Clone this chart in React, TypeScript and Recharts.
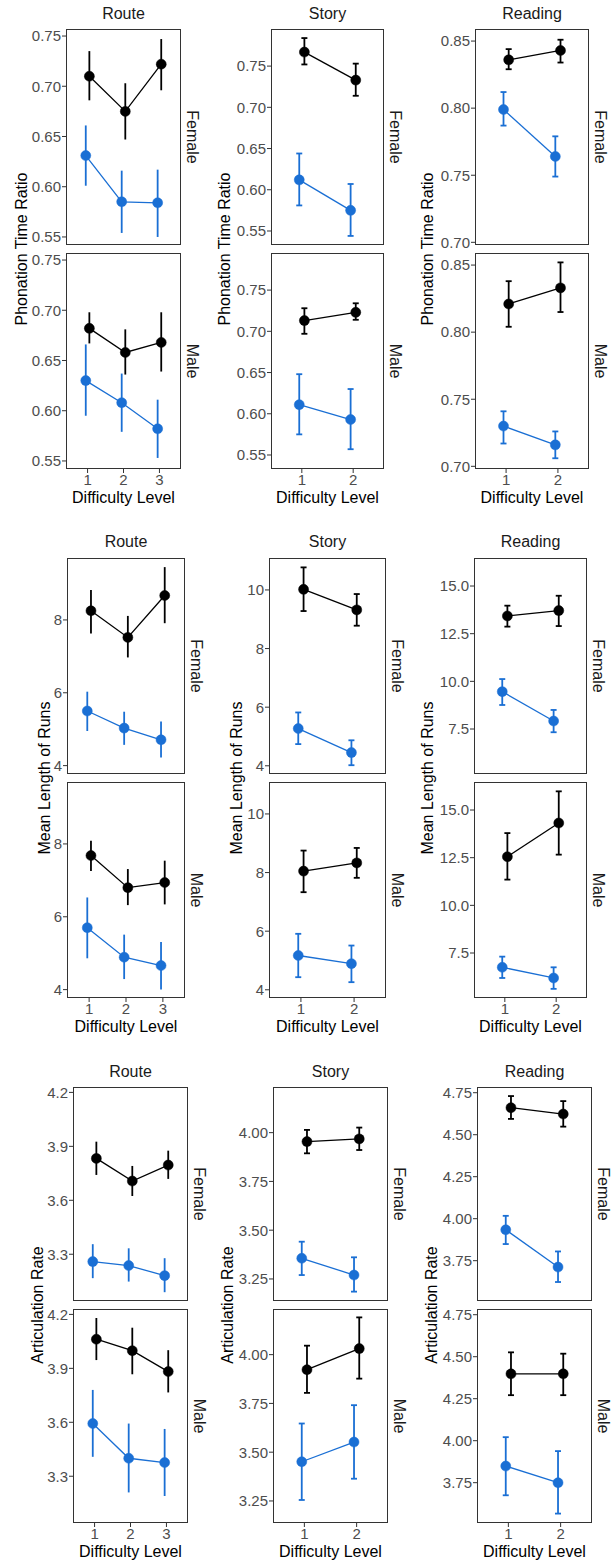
import React from "react";
import { ComposedChart, Line, XAxis, YAxis, ErrorBar } from "recharts";

const FONT = '"Liberation Sans", Arial, Helvetica, sans-serif';
const BLACK = "#000000";
const BLUE = "#1A6FD4";

const tasks = ["Route", "Story", "Reading"];
const genders = ["Female", "Male"];
const routeLevels = [1, 2, 3];
const storyLevels = [1, 2];
const readingLevels = [1, 2];

// each point: [mean, lower, upper]
// Phonation Time Ratio
const ptrRouteFemaleBlack = [[0.71, 0.686, 0.735], [0.675, 0.647, 0.703], [0.722, 0.696, 0.747]];
const ptrRouteFemaleBlue = [[0.631, 0.601, 0.661], [0.585, 0.554, 0.616], [0.584, 0.55, 0.617]];
const ptrRouteMaleBlack = [[0.682, 0.667, 0.698], [0.658, 0.636, 0.681], [0.668, 0.639, 0.698]];
const ptrRouteMaleBlue = [[0.63, 0.595, 0.666], [0.608, 0.579, 0.637], [0.582, 0.553, 0.611]];
const ptrStoryFemaleBlack = [[0.767, 0.752, 0.784], [0.733, 0.714, 0.753]];
const ptrStoryFemaleBlue = [[0.612, 0.581, 0.644], [0.575, 0.544, 0.607]];
const ptrStoryMaleBlack = [[0.713, 0.697, 0.728], [0.723, 0.714, 0.734]];
const ptrStoryMaleBlue = [[0.611, 0.575, 0.648], [0.593, 0.557, 0.63]];
const ptrReadingFemaleBlack = [[0.836, 0.829, 0.844], [0.843, 0.834, 0.851]];
const ptrReadingFemaleBlue = [[0.799, 0.787, 0.812], [0.764, 0.749, 0.779]];
const ptrReadingMaleBlack = [[0.821, 0.804, 0.838], [0.833, 0.815, 0.852]];
const ptrReadingMaleBlue = [[0.73, 0.717, 0.741], [0.716, 0.706, 0.726]];

// Mean Length of Runs
const mlrRouteFemaleBlack = [[8.25, 7.63, 8.82], [7.52, 6.97, 8.11], [8.67, 7.91, 9.45]];
const mlrRouteFemaleBlue = [[5.5, 4.95, 6.03], [5.03, 4.57, 5.48], [4.71, 4.22, 5.21]];
const mlrRouteMaleBlack = [[7.68, 7.26, 8.09], [6.8, 6.32, 7.31], [6.94, 6.34, 7.54]];
const mlrRouteMaleBlue = [[5.7, 4.86, 6.53], [4.89, 4.29, 5.51], [4.66, 4.0, 5.31]];
const mlrStoryFemaleBlack = [[10.02, 9.28, 10.77], [9.32, 8.78, 9.86]];
const mlrStoryFemaleBlue = [[5.27, 4.74, 5.82], [4.45, 4.02, 4.87]];
const mlrStoryMaleBlack = [[8.05, 7.33, 8.75], [8.33, 7.82, 8.84]];
const mlrStoryMaleBlue = [[5.17, 4.43, 5.91], [4.89, 4.26, 5.51]];
const mlrReadingFemaleBlack = [[13.43, 12.87, 13.97], [13.71, 12.9, 14.49]];
const mlrReadingFemaleBlue = [[9.46, 8.76, 10.12], [7.92, 7.33, 8.5]];
const mlrReadingMaleBlack = [[12.55, 11.35, 13.79], [14.32, 12.66, 15.98]];
const mlrReadingMaleBlue = [[6.75, 6.19, 7.31], [6.19, 5.62, 6.75]];

// Articulation Rate
const arRouteFemaleBlack = [[3.833, 3.741, 3.926], [3.707, 3.624, 3.791], [3.796, 3.719, 3.876]];
const arRouteFemaleBlue = [[3.259, 3.167, 3.356], [3.237, 3.148, 3.333], [3.181, 3.089, 3.278]];
const arRouteMaleBlack = [[4.062, 3.946, 4.18], [3.998, 3.867, 4.126], [3.882, 3.766, 4.001]];
const arRouteMaleBlue = [[3.593, 3.408, 3.78], [3.4, 3.21, 3.593], [3.376, 3.19, 3.563]];
const arStoryFemaleBlack = [[3.954, 3.894, 4.014], [3.968, 3.911, 4.026]];
const arStoryFemaleBlue = [[3.356, 3.27, 3.441], [3.27, 3.185, 3.361]];
const arStoryMaleBlack = [[3.923, 3.804, 4.046], [4.031, 3.877, 4.191]];
const arStoryMaleBlue = [[3.451, 3.255, 3.647], [3.552, 3.364, 3.741]];
const arReadingFemaleBlack = [[4.661, 4.594, 4.73], [4.623, 4.548, 4.7]];
const arReadingFemaleBlue = [[3.934, 3.849, 4.017], [3.712, 3.623, 3.805]];
const arReadingMaleBlack = [[4.398, 4.271, 4.526], [4.398, 4.271, 4.518]];
const arReadingMaleBlue = [[3.849, 3.675, 4.021], [3.75, 3.566, 3.938]];

// y ranges and tick labels
const ptrDomains = [[0.542, 0.757], [0.533, 0.795], [0.698, 0.859]];
const ptrTicks = [[0.55, 0.6, 0.65, 0.7, 0.75], [0.55, 0.6, 0.65, 0.7, 0.75], [0.7, 0.75, 0.8, 0.85]];
const mlrDomains = [[3.77, 9.7], [3.72, 11.09], [5.14, 16.47]];
const mlrTicks = [[4, 6, 8], [4, 6, 8, 10], [7.5, 10, 12.5, 15]];
const arDomains = [[3.04, 4.23], [3.137, 4.234], [3.51, 4.784]];
const arTicks = [[3.3, 3.6, 3.9, 4.2], [3.25, 3.5, 3.75, 4.0], [3.75, 4.0, 4.25, 4.5, 4.75]];

const levelsByTask = [routeLevels, storyLevels, readingLevels];

const metrics = [
  {
    label: "Phonation Time Ratio",
    domains: ptrDomains,
    ticks: ptrTicks,
    digits: [2, 2, 2],
    series: [
      [[ptrRouteFemaleBlack, ptrRouteFemaleBlue], [ptrRouteMaleBlack, ptrRouteMaleBlue]],
      [[ptrStoryFemaleBlack, ptrStoryFemaleBlue], [ptrStoryMaleBlack, ptrStoryMaleBlue]],
      [[ptrReadingFemaleBlack, ptrReadingFemaleBlue], [ptrReadingMaleBlack, ptrReadingMaleBlue]],
    ],
  },
  {
    label: "Mean Length of Runs",
    domains: mlrDomains,
    ticks: mlrTicks,
    digits: [0, 0, 1],
    series: [
      [[mlrRouteFemaleBlack, mlrRouteFemaleBlue], [mlrRouteMaleBlack, mlrRouteMaleBlue]],
      [[mlrStoryFemaleBlack, mlrStoryFemaleBlue], [mlrStoryMaleBlack, mlrStoryMaleBlue]],
      [[mlrReadingFemaleBlack, mlrReadingFemaleBlue], [mlrReadingMaleBlack, mlrReadingMaleBlue]],
    ],
  },
  {
    label: "Articulation Rate",
    domains: arDomains,
    ticks: arTicks,
    digits: [1, 2, 2],
    series: [
      [[arRouteFemaleBlack, arRouteFemaleBlue], [arRouteMaleBlack, arRouteMaleBlue]],
      [[arStoryFemaleBlack, arStoryFemaleBlue], [arStoryMaleBlack, arStoryMaleBlue]],
      [[arReadingFemaleBlack, arReadingFemaleBlue], [arReadingMaleBlack, arReadingMaleBlue]],
    ],
  },
];

// page layout (pixel geometry of each block)
const rowLayout = [
  { titleY: 14, top: 29, ph: 216, gap: 8, xTitleY: 498, cols: [[66, 181], [271, 384], [475, 589]], yLabX: [22, 225, 428] },
  { titleY: 542, top: 558, ph: 216, gap: 8, xTitleY: 1027, cols: [[67, 185], [269, 386], [474, 587]], yLabX: [45, 237, 428] },
  { titleY: 1072, top: 1087, ph: 214, gap: 8, xTitleY: 1552, cols: [[73, 188], [273, 388], [477, 592]], yLabX: [38, 228, 432] },
];

const YW = 60;
const XH = 26;
const PAD = 10;
const DODGE = 0.05;
const tickStyle = { fill: "#4D4D4D", fontSize: 15, fontFamily: FONT };

const toPoints = (pts: number[][], levels: number[], dx: number) =>
  pts.map((p, i) => ({ x: levels[i] + dx, y: p[0], err: [p[0] - p[1], p[2] - p[0]] }));

function Panel({ left, top, width, height, levels, domain, ticks, digits, black, blue, showX }: any) {
  const n = levels.length;
  const capW = n === 3 ? 0 : 3;
  const padBottom = showX ? 0 : PAD;
  return (
    <div style={{ position: "absolute", left: left - YW, top: top - PAD }}>
      <ComposedChart
        width={YW + width}
        height={height + PAD + padBottom + (showX ? XH : 0)}
        margin={{ top: PAD, right: 0, bottom: padBottom, left: 0 }}
      >
        <XAxis
          type="number"
          dataKey="x"
          domain={[0.4, n + 0.6]}
          ticks={levels}
          interval={0}
          allowDataOverflow
          hide={!showX}
          height={XH}
          axisLine={false}
          tickLine={{ stroke: "#333333" }}
          tickSize={4}
          tickMargin={1}
          tick={tickStyle}
        />
        <YAxis
          type="number"
          domain={domain}
          ticks={ticks}
          interval={0}
          allowDataOverflow
          width={YW}
          axisLine={false}
          tickLine={{ stroke: "#333333" }}
          tickSize={4}
          tickMargin={1}
          tick={tickStyle}
          tickFormatter={(v: number) => v.toFixed(digits)}
        />
        <Line
          data={toPoints(blue, levels, -DODGE)}
          dataKey="y"
          stroke={BLUE}
          strokeWidth={1.3}
          dot={{ r: 5, fill: BLUE, stroke: BLUE, strokeWidth: 0.5 }}
          activeDot={false}
          isAnimationActive={false}
        >
          <ErrorBar dataKey="err" direction="y" width={capW} stroke={BLUE} strokeWidth={1.8} />
        </Line>
        <Line
          data={toPoints(black, levels, DODGE)}
          dataKey="y"
          stroke={BLACK}
          strokeWidth={1.3}
          dot={{ r: 5, fill: BLACK, stroke: BLACK, strokeWidth: 0.5 }}
          activeDot={false}
          isAnimationActive={false}
        >
          <ErrorBar dataKey="err" direction="y" width={capW} stroke={BLACK} strokeWidth={1.8} />
        </Line>
      </ComposedChart>
      <div
        style={{
          position: "absolute",
          left: YW,
          top: PAD,
          width,
          height,
          border: "1px solid #333333",
          boxSizing: "border-box",
          pointerEvents: "none",
        }}
      />
    </div>
  );
}

const textBase: React.CSSProperties = {
  position: "absolute",
  fontFamily: FONT,
  whiteSpace: "nowrap",
  lineHeight: "18px",
};

export default function App() {
  const items: React.ReactNode[] = [];
  metrics.forEach((m, r) => {
    const L = rowLayout[r];
    tasks.forEach((task, c) => {
      const [pl, pr] = L.cols[c];
      const pw = pr - pl;
      const levels = levelsByTask[c];
      const key = `${r}-${c}`;
      const bottom = L.top + 2 * L.ph + L.gap;
      items.push(
        <div key={key + "t"} style={{ ...textBase, left: pl, width: pw, top: L.titleY - 9, textAlign: "center", fontSize: 16, color: "#1A1A1A" }}>
          {task}
        </div>
      );
      genders.forEach((g, gi) => {
        const top = L.top + gi * (L.ph + L.gap);
        const [black, blue] = m.series[c][gi];
        items.push(
          <Panel
            key={key + g}
            left={pl}
            top={top}
            width={pw}
            height={L.ph}
            levels={levels}
            domain={m.domains[c]}
            ticks={m.ticks[c]}
            digits={m.digits[c]}
            black={black}
            blue={blue}
            showX={gi === 1}
          />
        );
        items.push(
          <div
            key={key + g + "s"}
            style={{
              ...textBase,
              left: pr + 11,
              top: top + L.ph / 2,
              transform: "translate(-50%, -50%) rotate(90deg)",
              fontSize: 16,
              color: "#1A1A1A",
            }}
          >
            {g}
          </div>
        );
      });
      items.push(
        <div
          key={key + "y"}
          style={{
            ...textBase,
            left: L.yLabX[c],
            top: (L.top + bottom) / 2,
            transform: "translate(-50%, -50%) rotate(-90deg)",
            fontSize: 16,
            color: "#000000",
          }}
        >
          {m.label}
        </div>
      );
      items.push(
        <div key={key + "x"} style={{ ...textBase, left: pl, width: pw, top: L.xTitleY - 9, textAlign: "center", fontSize: 16, color: "#000000" }}>
          Difficulty Level
        </div>
      );
    });
  });

  return (
    <div style={{ position: "absolute", left: 0, top: 0, width: 615, height: 1566, background: "#FFFFFF", overflow: "hidden" }}>
      {items}
    </div>
  );
}
